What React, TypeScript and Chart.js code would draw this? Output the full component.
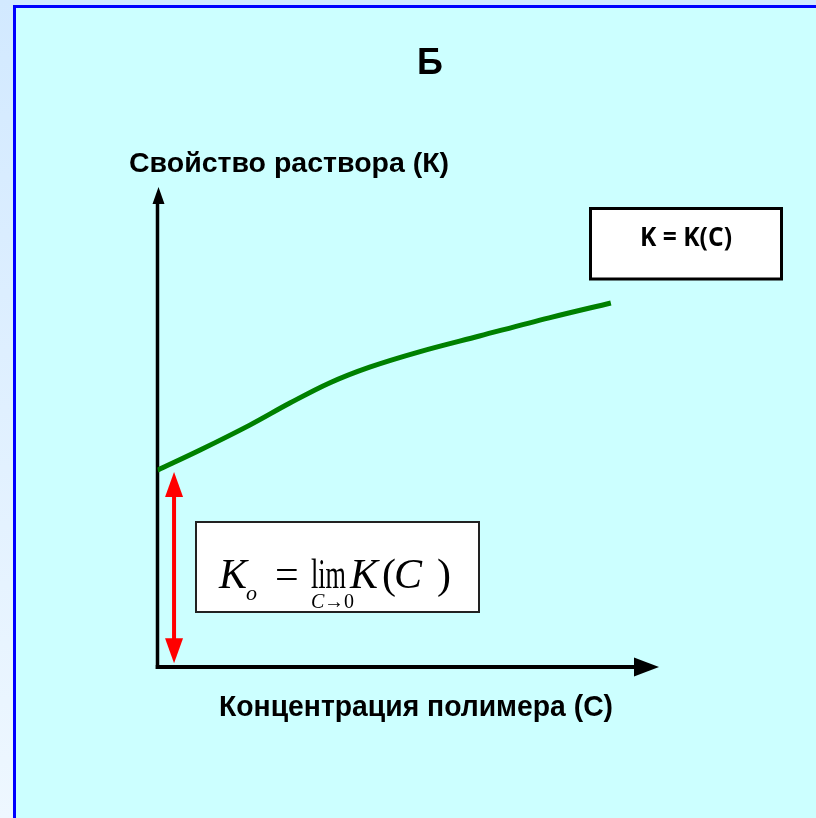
import React, { useEffect, useRef } from "react";
import { Chart, registerables } from "chart.js";

Chart.register(...registerables);

// ---- data ----
const titleText = "Б";
const yAxisLabel = "Свойство раствора (К)";
const xAxisLabel = "Концентрация полимера (С)";
const curveLabel = "K = K(C)";

const concentration = [0, 0.85, 1.84, 2.64, 3.43, 4.23, 5.22, 6.42, 7.81, 9.04];
const property = [4.11, 4.53, 5.05, 5.51, 5.93, 6.26, 6.58, 6.91, 7.29, 7.6];
const limitArrowX = [0.33, 0.33];
const limitArrowY = [4.07, 0.08];
const xRange = [0, 10];
const yRange = [0, 10];

const W = 816;
const H = 818;

function drawArrowHead(ctx: CanvasRenderingContext2D, tipX: number, tipY: number, dx: number, dy: number, len: number, half: number, color: string) {
  const bx = tipX - dx * len;
  const by = tipY - dy * len;
  const px = -dy;
  const py = dx;
  ctx.fillStyle = color;
  ctx.beginPath();
  ctx.moveTo(tipX, tipY);
  ctx.lineTo(bx + px * half, by + py * half);
  ctx.lineTo(bx - px * half, by - py * half);
  ctx.closePath();
  ctx.fill();
}

const decorPlugin = {
  id: "decor",
  beforeDraw(chart: any) {
    const { ctx, width, height } = chart;
    ctx.save();
    const g = ctx.createLinearGradient(0, 0, 0, height);
    g.addColorStop(0, "#D2E9FF");
    g.addColorStop(1, "#EEF7FF");
    ctx.fillStyle = g;
    ctx.fillRect(0, 0, width, height);
    ctx.fillStyle = "#CCFFFF";
    ctx.fillRect(14.5, 6.5, width, height);
    ctx.strokeStyle = "#0000FF";
    ctx.lineWidth = 3;
    ctx.beginPath();
    ctx.moveTo(14.5, height + 5);
    ctx.lineTo(14.5, 6.5);
    ctx.lineTo(width + 5, 6.5);
    ctx.stroke();
    ctx.restore();
  },
  beforeDatasetsDraw(chart: any) {
    const { ctx, chartArea: ca } = chart;
    ctx.save();
    ctx.strokeStyle = "#000";
    ctx.lineWidth = 3.5;
    ctx.lineCap = "butt";
    ctx.beginPath();
    ctx.moveTo(ca.left, ca.bottom + 2);
    ctx.lineTo(ca.left, ca.top + 12);
    ctx.stroke();
    ctx.lineWidth = 4;
    ctx.beginPath();
    ctx.moveTo(ca.left - 1.75, ca.bottom);
    ctx.lineTo(ca.right - 20, ca.bottom);
    ctx.stroke();
    drawArrowHead(ctx, ca.left + 1, ca.top - 1, 0, -1, 17, 6, "#000");
    drawArrowHead(ctx, ca.right, ca.bottom, 1, 0, 25, 9.5, "#000");
    ctx.restore();
  },
  afterDatasetsDraw(chart: any) {
    const { ctx } = chart;
    const xs = chart.scales.x;
    const ys = chart.scales.y;
    ctx.save();
    // red limit arrow
    const ax = xs.getPixelForValue(limitArrowX[0]);
    const aTop = ys.getPixelForValue(limitArrowY[0]);
    const aBot = ys.getPixelForValue(limitArrowY[1]);
    ctx.strokeStyle = "#FF0000";
    ctx.lineWidth = 4;
    ctx.beginPath();
    ctx.moveTo(ax, aTop + 20);
    ctx.lineTo(ax, aBot - 20);
    ctx.stroke();
    drawArrowHead(ctx, ax, aTop, 0, -1, 25, 9, "#FF0000");
    drawArrowHead(ctx, ax, aBot, 0, 1, 25, 9, "#FF0000");

    // formula box
    ctx.fillStyle = "#FFFFFF";
    ctx.fillRect(196, 522, 283, 90);
    ctx.strokeStyle = "#222";
    ctx.lineWidth = 2;
    ctx.strokeRect(196, 522, 283, 90);

    // K = K(C) box
    ctx.fillStyle = "#FFFFFF";
    ctx.fillRect(590.5, 208.5, 191, 70.5);
    ctx.strokeStyle = "#000";
    ctx.lineWidth = 3;
    ctx.strokeRect(590.5, 208.5, 191, 70.5);

    ctx.fillStyle = "#000";
    ctx.textBaseline = "alphabetic";
    ctx.textAlign = "center";
    ctx.font = "bold 27px 'Open Sans', 'Liberation Sans', sans-serif";
    ctx.fillText(curveLabel, 686, 246, 92);

    // formula
    const serif = "'Liberation Serif', 'Times New Roman', serif";
    ctx.textAlign = "left";
    ctx.font = `italic 42px ${serif}`;
    ctx.fillText("K", 219, 588);
    ctx.font = `italic 22px ${serif}`;
    ctx.fillText("o", 246, 600);
    ctx.font = `42px ${serif}`;
    ctx.fillText("=", 275, 588);
    ctx.fillText("lim", 311, 588, 35);
    ctx.font = `italic 42px ${serif}`;
    ctx.fillText("K", 350, 588);
    ctx.font = `42px ${serif}`;
    ctx.fillText("(", 382, 588);
    ctx.font = `italic 42px ${serif}`;
    ctx.fillText("C", 394, 588);
    ctx.font = `42px ${serif}`;
    ctx.fillText(")", 437, 588);
    ctx.font = `italic 20px ${serif}`;
    ctx.fillText("C", 311, 608);
    ctx.font = `20px ${serif}`;
    ctx.fillText("→0", 324, 608);

    // titles
    const sans = "'Liberation Sans', Arial, sans-serif";
    ctx.textAlign = "center";
    ctx.font = `bold 36px ${sans}`;
    ctx.fillText(titleText, 430, 74);
    ctx.textAlign = "left";
    ctx.font = `bold 28.5px ${sans}`;
    ctx.fillText(yAxisLabel, 129, 172, 322);
    ctx.textAlign = "center";
    ctx.font = `bold 30px 'Liberation Sans Narrow', ${sans}`;
    ctx.fillText(xAxisLabel, 416, 716, 394);
    ctx.restore();
  },
};

export default function App() {
  const ref = useRef<HTMLCanvasElement | null>(null);
  useEffect(() => {
    if (!ref.current) return;
    const chart = new Chart(ref.current, {
      type: "line",
      data: {
        datasets: [
          {
            data: concentration.map((c, i) => ({ x: c, y: property[i] })),
            borderColor: "#008000",
            borderWidth: 5,
            pointRadius: 0,
            tension: 0.35,
            fill: false,
          },
        ],
      },
      options: {
        responsive: false,
        animation: false,
        devicePixelRatio: 1,
        layout: { padding: { left: 157.5, right: W - 659, top: 188, bottom: H - 667 } },
        plugins: { legend: { display: false }, tooltip: { enabled: false }, title: { display: false } },
        scales: {
          x: { type: "linear", min: xRange[0], max: xRange[1], display: false },
          y: { type: "linear", min: yRange[0], max: yRange[1], display: false },
        },
      },
      plugins: [decorPlugin],
    });
    return () => chart.destroy();
  }, []);
  return (
    <div style={{ position: "absolute", left: 0, top: 0, width: W, height: H }}>
      <canvas ref={ref} width={W} height={H} style={{ display: "block" }} />
    </div>
  );
}
